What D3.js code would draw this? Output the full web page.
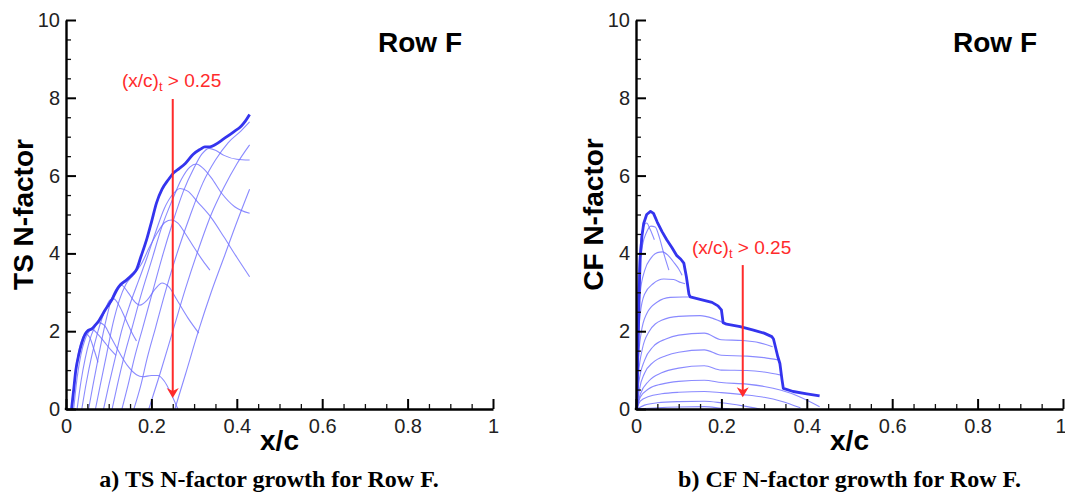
<!DOCTYPE html>
<html>
<head>
<meta charset="utf-8">
<script src="https://cdn.jsdelivr.net/npm/d3@7"></script>
<style>
  html, body { margin: 0; padding: 0; background: #fff; }
  svg { display: block; }
</style>
</head>
<body>
<svg id="chart" width="1065" height="493"></svg>
<script>
// ---------- axis ticks ----------
const xMajorTicks = [0, 0.2, 0.4, 0.6, 0.8, 1];
const xMajorLabels = ["0", "0.2", "0.4", "0.6", "0.8", "1"];
const xMinorTicks = [0.05,0.1,0.15,0.25,0.3,0.35,0.45,0.5,0.55,0.65,0.7,0.75,0.85,0.9,0.95];
const yMajorTicks = [0, 2, 4, 6, 8, 10];
const yMajorLabels = ["0", "2", "4", "6", "8", "10"];
const yMinorTicks = [0.5,1,1.5,2.5,3,3.5,4.5,5,5.5,6.5,7,7.5,8.5,9,9.5];

// ---------- panel a: TS N-factor ----------
const tsEnvelope = [[0.013,0],[0.018,0.5],[0.023,1.0],[0.03,1.4],[0.037,1.7],[0.045,1.93],[0.052,2.02],[0.06,2.06],[0.068,2.15],[0.077,2.27],[0.092,2.55],[0.108,2.82],[0.12,3.08],[0.128,3.2],[0.14,3.3],[0.155,3.45],[0.165,3.58],[0.175,3.9],[0.19,4.4],[0.2,4.8],[0.212,5.3],[0.225,5.65],[0.24,5.9],[0.252,6.07],[0.265,6.18],[0.28,6.32],[0.298,6.55],[0.315,6.68],[0.325,6.74],[0.337,6.74],[0.35,6.8],[0.37,6.95],[0.392,7.12],[0.41,7.27],[0.42,7.4],[0.43,7.57]];
const tsC1 = [[0.014,0],[0.022,0.9],[0.03,1.5],[0.038,1.8],[0.046,1.93],[0.055,1.85],[0.065,1.55],[0.075,1.2]];
const tsC2 = [[0.018,0],[0.026,0.8],[0.035,1.4],[0.045,1.8],[0.055,2.0],[0.062,2.04],[0.075,1.92],[0.09,1.72],[0.105,1.52],[0.117,1.38]];
const tsC3 = [[0.026,0],[0.035,0.7],[0.045,1.3],[0.055,1.75],[0.065,2.05],[0.077,2.22],[0.09,2.15],[0.105,1.85],[0.125,1.45],[0.145,1.1],[0.165,0.88],[0.18,0.83],[0.2,0.86],[0.215,0.86],[0.23,0.72],[0.245,0.42],[0.262,0]];
const tsC4 = [[0.037,0],[0.048,0.7],[0.06,1.35],[0.075,2.0],[0.09,2.5],[0.103,2.8],[0.112,2.83],[0.125,2.65],[0.14,2.3],[0.155,1.95],[0.165,1.75]];
const tsC5 = [[0.053,0],[0.063,0.6],[0.077,1.4],[0.092,2.2],[0.106,2.8],[0.12,3.12],[0.13,3.18],[0.145,3.0],[0.16,2.77],[0.173,2.67],[0.19,2.8],[0.21,3.1],[0.225,3.24],[0.24,3.15],[0.26,2.8],[0.285,2.35],[0.311,1.95]];
const tsC6 = [[0.069,0],[0.08,0.6],[0.095,1.4],[0.11,2.2],[0.125,2.8],[0.14,3.2],[0.158,3.45],[0.175,3.7],[0.195,4.15],[0.215,4.55],[0.232,4.8],[0.247,4.86],[0.262,4.78],[0.28,4.5],[0.3,4.15],[0.32,3.82],[0.337,3.57]];
const tsC7 = [[0.088,0],[0.1,0.6],[0.115,1.3],[0.13,2.0],[0.15,2.7],[0.17,3.3],[0.19,3.9],[0.21,4.55],[0.23,5.15],[0.25,5.52],[0.267,5.67],[0.285,5.6],[0.31,5.3],[0.34,4.92],[0.37,4.42],[0.4,3.9],[0.43,3.4]];
const tsC8 = [[0.108,0],[0.12,0.6],[0.135,1.3],[0.155,2.1],[0.175,2.9],[0.2,3.8],[0.225,4.7],[0.25,5.4],[0.27,5.9],[0.29,6.22],[0.305,6.3],[0.32,6.2],[0.34,5.95],[0.365,5.54],[0.395,5.2],[0.43,5.03]];
const tsC9 = [[0.131,0],[0.145,0.6],[0.16,1.3],[0.18,2.1],[0.2,2.9],[0.225,3.9],[0.25,4.8],[0.275,5.6],[0.3,6.2],[0.318,6.55],[0.335,6.7],[0.35,6.65],[0.37,6.52],[0.4,6.42],[0.43,6.4]];
const tsC10 = [[0.159,0],[0.175,0.6],[0.19,1.3],[0.21,2.1],[0.235,3.1],[0.26,4.0],[0.29,4.95],[0.32,5.8],[0.35,6.4],[0.38,6.85],[0.41,7.15],[0.43,7.38]];
const tsC11 = [[0.194,0],[0.22,0.9],[0.25,2.0],[0.28,3.1],[0.31,4.1],[0.34,5.0],[0.37,5.7],[0.4,6.3],[0.43,6.79]];
const tsC12 = [[0.255,0],[0.28,0.9],[0.31,2.0],[0.34,3.0],[0.37,3.9],[0.4,4.8],[0.43,5.65]];
const tsArrow = { x: 0.25, top: 7.97, tip: 0.28 };

// ---------- panel b: CF N-factor ----------
const cfEnvelope = [[0.002,0],[0.004,1.2],[0.006,2.2],[0.008,3.2],[0.01,3.9],[0.014,4.45],[0.018,4.77],[0.025,5.0],[0.034,5.08],[0.041,5.03],[0.05,4.8],[0.061,4.56],[0.072,4.35],[0.084,4.15],[0.095,3.95],[0.105,3.85],[0.112,3.75],[0.118,3.4],[0.124,2.95],[0.127,2.88],[0.15,2.82],[0.178,2.74],[0.192,2.65],[0.2,2.55],[0.204,2.22],[0.212,2.18],[0.244,2.12],[0.275,2.03],[0.3,1.95],[0.318,1.86],[0.322,1.8],[0.332,1.35],[0.337,1.17],[0.342,0.75],[0.345,0.53],[0.368,0.45],[0.4,0.39],[0.43,0.34]];
const cfT0 = [[0.002,0],[0.004,3.0],[0.01,4.2],[0.018,4.7],[0.025,4.78],[0.033,4.62],[0.043,4.35]];
const cfT1 = [[0.002,0],[0.004,2.5],[0.008,3.6],[0.015,4.2],[0.025,4.55],[0.035,4.7],[0.045,4.68],[0.055,4.4],[0.065,4.0],[0.077,3.57]];
const cfT2 = [[0.002,0],[0.004,2.0],[0.01,3.0],[0.02,3.55],[0.035,3.88],[0.05,4.02],[0.062,4.04],[0.075,3.95],[0.09,3.75],[0.1,3.6],[0.108,3.44]];
const cfT3 = [[0.002,0],[0.004,1.5],[0.01,2.45],[0.02,2.95],[0.04,3.22],[0.065,3.34],[0.088,3.33],[0.105,3.25],[0.115,3.22]];
const cfT4 = [[0.002,0],[0.005,1.2],[0.012,1.95],[0.025,2.45],[0.05,2.75],[0.08,2.87],[0.11,2.88],[0.127,2.88]];
const cfT5 = [[0.002,0],[0.006,0.9],[0.015,1.55],[0.03,1.98],[0.06,2.28],[0.1,2.38],[0.15,2.4],[0.18,2.33],[0.204,2.22]];
const cfT6 = [[0.002,0],[0.007,0.7],[0.02,1.25],[0.04,1.6],[0.07,1.8],[0.1,1.9],[0.16,1.95],[0.2,1.78],[0.25,1.76],[0.29,1.7],[0.32,1.6]];
const cfT7 = [[0.002,0],[0.008,0.5],[0.02,0.92],[0.04,1.2],[0.07,1.37],[0.1,1.46],[0.16,1.52],[0.2,1.38],[0.26,1.36],[0.3,1.32],[0.334,1.26]];
const cfT8 = [[0.002,0],[0.01,0.38],[0.03,0.72],[0.06,0.93],[0.1,1.05],[0.16,1.11],[0.2,1.0],[0.26,0.99],[0.3,0.95],[0.34,0.87]];
const cfT9 = [[0.002,0],[0.01,0.3],[0.03,0.52],[0.06,0.64],[0.1,0.71],[0.16,0.74],[0.2,0.68],[0.26,0.64],[0.3,0.58],[0.34,0.48],[0.38,0.33],[0.43,0.06]];
const cfT10 = [[0.002,0],[0.01,0.2],[0.03,0.32],[0.06,0.39],[0.1,0.43],[0.16,0.45],[0.2,0.42],[0.25,0.37],[0.3,0.3],[0.34,0.2],[0.385,0.03]];
const cfT11 = [[0.002,0],[0.02,0.1],[0.05,0.16],[0.1,0.19],[0.16,0.2],[0.2,0.16],[0.25,0.08],[0.29,0.0]];
const cfT12 = [[0.005,0],[0.05,0.03],[0.1,0.05],[0.16,0.06],[0.2,0.02],[0.22,0]];
const cfArrow = { x: 0.25, top: 3.7, tip: 0.3 };

const panels = [
  { x0: 66, ylabel: "TS N-factor", ylabelX: 33, title: "Row F", titleX: 378,
    caption: "a) TS N-factor growth for Row F.", captionX: 269,
    envelope: tsEnvelope, envCurve: d3.curveMonotoneX,
    thin: [tsC1, tsC2, tsC3, tsC4, tsC5, tsC6, tsC7, tsC8, tsC9, tsC10, tsC11, tsC12],
    arrow: tsArrow, annX: 122, annY: 87 },
  { x0: 636, ylabel: "CF N-factor", ylabelX: 603, title: "Row F", titleX: 953,
    caption: "b) CF N-factor growth for Row F.", captionX: 849.5,
    envelope: cfEnvelope, envCurve: d3.curveLinear,
    thin: [cfT0, cfT1, cfT2, cfT3, cfT4, cfT5, cfT6, cfT7, cfT8, cfT9, cfT10, cfT11, cfT12],
    arrow: cfArrow, annX: 692, annY: 254 }
];

const svg = d3.select("#chart");
const W = 427, yTop = 20, yBot = 409;
const sans = "'Liberation Sans', Arial, Helvetica, sans-serif";
const red = "#ff2b2b";

panels.forEach(p => {
  const x = d3.scaleLinear().domain([0, 1]).range([p.x0, p.x0 + W]);
  const y = d3.scaleLinear().domain([0, 10]).range([yBot, yTop]);
  const g = svg.append("g");

  // thin curves
  const thinLine = d3.line().x(d => x(d[0])).y(d => y(d[1])).curve(d3.curveMonotoneX);
  g.append("g").selectAll("path").data(p.thin).join("path")
    .attr("d", thinLine)
    .attr("fill", "none").attr("stroke", "#6d6dff")
    .attr("stroke-width", 1.1).attr("stroke-opacity", 0.8);

  // envelope
  const envLine = d3.line().x(d => x(d[0])).y(d => y(d[1])).curve(p.envCurve);
  g.append("path").datum(p.envelope).attr("d", envLine)
    .attr("fill", "none").attr("stroke", "#3434ee")
    .attr("stroke-width", 2.8).attr("stroke-linejoin", "round");

  // minor ticks
  g.append("g").attr("transform", `translate(0,${yBot})`)
    .call(d3.axisBottom(x).tickValues(xMinorTicks).tickSize(-5).tickFormat("").tickSizeOuter(0))
    .call(a => a.select(".domain").remove())
    .call(a => a.selectAll("line").attr("stroke", "#111").attr("stroke-width", 1.3));
  g.append("g").attr("transform", `translate(${p.x0},0)`)
    .call(d3.axisLeft(y).tickValues(yMinorTicks).tickSize(-5).tickFormat("").tickSizeOuter(0))
    .call(a => a.select(".domain").remove())
    .call(a => a.selectAll("line").attr("stroke", "#111").attr("stroke-width", 1.3));

  // major axes
  const xa = g.append("g").attr("transform", `translate(0,${yBot})`)
    .call(d3.axisBottom(x).tickValues(xMajorTicks).tickSize(-10).tickSizeOuter(0)
      .tickPadding(12).tickFormat((d, i) => xMajorLabels[i]));
  const ya = g.append("g").attr("transform", `translate(${p.x0},0)`)
    .call(d3.axisLeft(y).tickValues(yMajorTicks).tickSize(-10).tickSizeOuter(0)
      .tickPadding(6).tickFormat((d, i) => yMajorLabels[i]));
  [xa, ya].forEach(a => {
    a.select(".domain").attr("stroke", "#000").attr("stroke-width", 2.4);
    a.selectAll(".tick line").attr("stroke", "#000").attr("stroke-width", 2);
    a.selectAll(".tick text").attr("font-family", sans).attr("font-size", 20).attr("fill", "#222");
  });
  xa.selectAll(".tick text").attr("dy", "0.6em");
  // keep the last x label ("1") inside the picture
  xa.selectAll(".tick text").filter((d, i) => i === xMajorTicks.length - 1 && p.x0 + W + 6 > 1065)
    .attr("text-anchor", "end").attr("dx", 3);

  // corner fix
  g.append("rect").attr("x", p.x0 - 1.2).attr("y", yBot - 1.2).attr("width", 2.4).attr("height", 2.4).attr("fill", "#000");

  // axis titles
  g.append("text")
    .attr("transform", `translate(${p.ylabelX},${(yTop + yBot) / 2}) rotate(-90)`)
    .attr("text-anchor", "middle").attr("font-family", sans)
    .attr("font-weight", "bold").attr("font-size", 28).attr("fill", "#000")
    .text(p.ylabel);
  g.append("text")
    .attr("x", p.x0 + W / 2).attr("y", 450)
    .attr("text-anchor", "middle").attr("font-family", sans)
    .attr("font-weight", "bold").attr("font-size", 28).attr("fill", "#000")
    .text("x/c");

  // Row F
  g.append("text").attr("x", p.titleX).attr("y", 52)
    .attr("font-family", sans).attr("font-weight", "bold").attr("font-size", 28).attr("fill", "#000")
    .text(p.title);

  // annotation
  const ann = g.append("text").attr("x", p.annX).attr("y", p.annY)
    .attr("font-family", sans).attr("font-size", 19).attr("fill", red);
  ann.append("tspan").text("(x/c)");
  ann.append("tspan").attr("font-size", 13).attr("dy", 4).text("t");
  ann.append("tspan").attr("dy", -4).text(" > 0.25");

  // arrow
  const ax = x(p.arrow.x), yTip = y(p.arrow.tip);
  g.append("line").attr("x1", ax).attr("x2", ax)
    .attr("y1", y(p.arrow.top)).attr("y2", yTip - 6)
    .attr("stroke", red).attr("stroke-width", 2);
  g.append("path")
    .attr("d", `M${ax},${yTip} L${ax - 6},${yTip - 10} L${ax},${yTip - 7} L${ax + 6},${yTip - 10} Z`)
    .attr("fill", red);

  // caption
  g.append("text").attr("x", p.captionX).attr("y", 487)
    .attr("text-anchor", "middle")
    .attr("font-family", "'Liberation Serif', 'Times New Roman', serif")
    .attr("font-weight", "bold").attr("font-size", 24).attr("fill", "#000")
    .text(p.caption);
});
</script>
</body>
</html>
